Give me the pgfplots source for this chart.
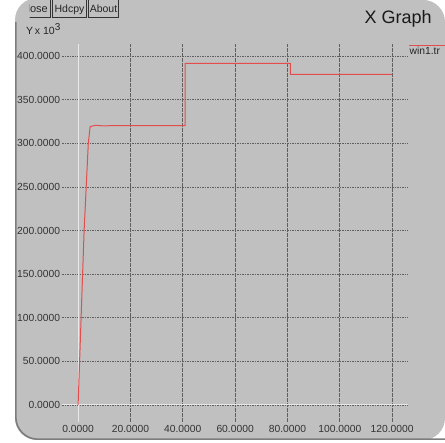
\documentclass[border=0pt]{standalone}
\usepackage{fontspec}
\setmainfont{Liberation Sans}
\usepackage{pgfplots}
\pgfplotsset{compat=1.18}
\definecolor{xgray}{RGB}{192,192,192}
\definecolor{xred}{RGB}{226,78,78}
\definecolor{xgrid}{RGB}{95,95,95}
\definecolor{xedge}{RGB}{125,125,125}
\definecolor{xzero}{RGB}{232,232,232}
\begin{document}
\begin{tikzpicture}
\useasboundingbox (0,0) rectangle (445pt,-443pt);
\fill[white] (0,0) rectangle (445pt,-443pt);
\begin{scope}[x=1pt,y=-1pt]
  \fill[xgray, rounded corners=22pt] (15,-2) -- (15,440) -- (445,440) -- (445,0) -- cycle;
  \fill[xgray] (30,-2) rectangle (420,30);
  % buttons
  \begin{scope}
    \clip (29.6,-3) rectangle (51,20);
    \draw[black!80, line width=0.6pt] (15,-3) rectangle (50,17.5);
    \node[anchor=base east, inner sep=0pt, font=\fontsize{11}{12}\selectfont, text=black!85] at (48,12.5) {Close};
  \end{scope}
  \draw[black!80, line width=0.6pt] (52.5,-3) rectangle (86.5,17.5);
  \node[anchor=base, inner sep=0pt, font=\fontsize{10.5}{12}\selectfont, text=black!85] at (69.5,12.5) {Hdcpy};
  \draw[black!80, line width=0.6pt] (88.5,-3) rectangle (118.5,17.5);
  \node[anchor=base, inner sep=0pt, font=\fontsize{10.5}{12}\selectfont, text=black!85] at (103.5,12.5) {About};
  % border
  \draw[xedge, line width=1.6pt, rounded corners=22pt] (15.8,22) -- (15.8,439.2) -- (446,439.2);
  % titles
  \node[anchor=base west, inner sep=0pt, font=\fontsize{18}{20}\selectfont, text=black!90] at (364.5,23.5) {X Graph};
  \node[anchor=base west, inner sep=0pt, font=\fontsize{10.5}{12}\selectfont, text=black!85] at (26,35) {Y\,x 10\raisebox{4.5pt}{\fontsize{10}{11}\selectfont 3}};
  % legend
  \draw[xred, line width=1.2pt] (409,45.5) -- (446,45.5);
  \node[anchor=base west, inner sep=0pt, font=\fontsize{10.3}{12}\selectfont, text=black!85] at (409.5,55) {win1.tr};
\end{scope}
\begin{axis}[
  anchor=origin, at={(78.1pt,-405pt)},
  x=2.617pt, y=0.8725pt,
  xmin=-6.15, xmax=126.06, ymin=-19.5, ymax=413.8,
  axis line style={draw=none},
  major tick length=0pt,
  xtick={0,20,...,120}, ytick={0,50,...,400},
  grid=major,
  major grid style={xgrid, line width=0.65pt, dash pattern=on 1.6pt off 0.9pt},
  /pgf/number format/assume math mode=true,
  xticklabel={\pgfmathprintnumber[fixed,fixed zerofill,precision=4]{\tick}},
  yticklabel={\pgfmathprintnumber[fixed,fixed zerofill,precision=4]{\tick}},
  ticklabel style={font=\fontsize{10.3}{12}\selectfont, text=black!80},
  yticklabel style={xshift=1.6pt},
  clip=false,
]
\draw[xzero, line width=1pt] (axis cs:0,-19.5) -- (axis cs:0,413.8);
\draw[xzero, line width=1pt] (axis cs:-6.15,0) -- (axis cs:126.06,0);
\addplot[xred, line width=1pt, mark=none] coordinates {
  (0,0) (2.3,200) (3.9,300) (4.6,319) (6.6,320.6) (9.7,319.9) (14.9,320.3)
  (40.9,320.3) (40.9,391.6) (81.1,391.6) (81.1,379) (120,379)
};
\end{axis}
\end{tikzpicture}
\end{document}
